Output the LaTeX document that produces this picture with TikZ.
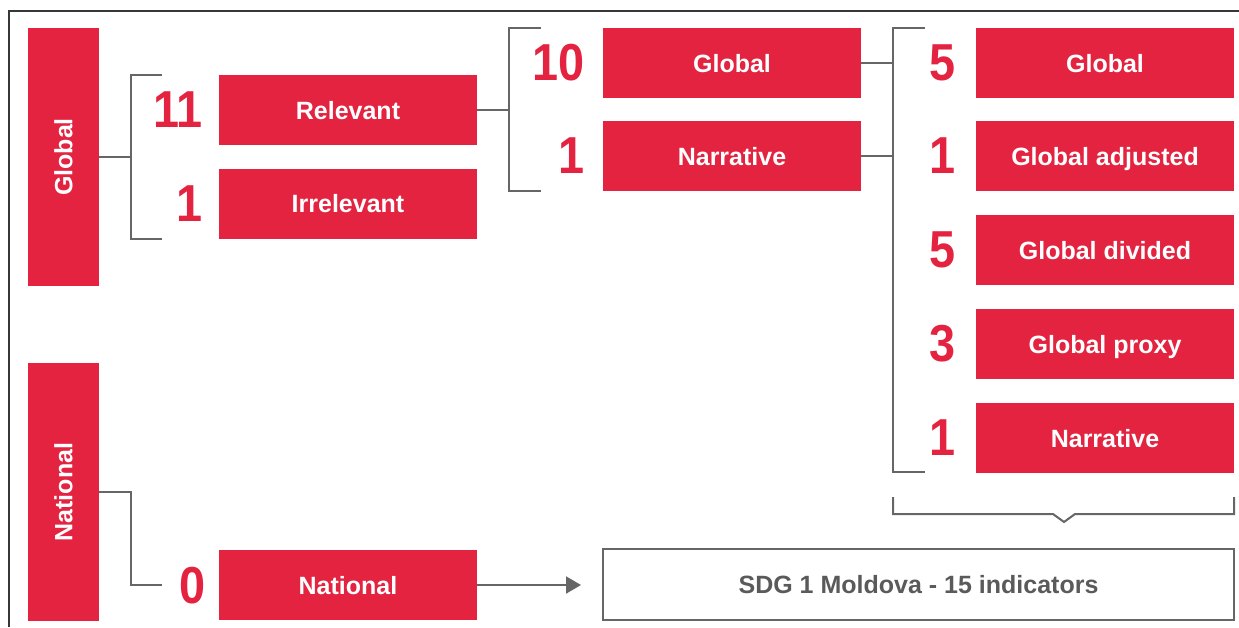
\documentclass[tikz,border=0pt]{standalone}
\usepackage{fontspec}
\setmainfont{Liberation Sans}
\newfontfamily\numfont[FakeStretch=0.9]{Liberation Sans}
\usepackage{graphicx}
\usetikzlibrary{arrows.meta,positioning,calc}

\definecolor{sdgred}{RGB}{227,35,63}
\definecolor{lngray}{RGB}{102,102,102}
\definecolor{txgray}{RGB}{90,90,90}
\definecolor{frgray}{RGB}{55,55,55}

\begin{document}
\begin{tikzpicture}[
		      x=1pt,y=-1pt,
		      cat/.style={fill=sdgred,inner sep=0pt,outer sep=0pt,minimum width=258pt,minimum height=70pt,
		                  text=white,font=\fontsize{25}{30}\selectfont\bfseries,text height=18pt,text depth=0pt},
		      side/.style={cat,minimum width=71pt,minimum height=258pt,text height=,text depth=},
		      num/.style={text=sdgred,inner sep=0pt,font=\numfont\fontsize{52}{60}\selectfont\bfseries},
		      brk/.style={draw=lngray,line width=2pt},
		      arr/.style={-{Triangle[length=15pt,width=17pt]},draw=lngray,line width=2pt},
		      total/.style={draw=lngray,line width=2.5pt,inner sep=0pt,minimum width=631pt,minimum height=71pt,
		                    text=txgray,font=\fontsize{25}{30}\selectfont\bfseries,text height=18pt,text depth=0pt}
		    ]
    \useasboundingbox (0,0) rectangle (1239,627);
    \draw[draw=frgray,line width=1.5pt] (9,627) -- (9,11) -- (1239,11);

    % level 1: vertical category bars
    \node[side] (Gv) at (63.5,157) {\rotatebox{90}{Global}};
    \node[side] (Nv) at (63.5,492) {\rotatebox{90}{National}};

    % level 2
    \node[cat] (Rel) at (348,110) {Relevant};
    \node[cat] (Irr) at (348,203.5) {Irrelevant};
    \node[cat] (Nat) at (348,585) {National};
    \node[num,anchor=east] (n11) at (203,110) {11};
    \node[num,anchor=east] (n1a) at (203,203.5) {1};
    \node[num,anchor=east] (n0) at (206,586) {0};

    % level 3
    \node[cat] (Glo) at (732,63) {Global};
    \node[cat] (Nar) at (732,156) {Narrative};
    \node[num,anchor=east] (n10) at (585,63) {10};
    \node[num,anchor=east] (n1b) at (585,156) {1};

    % level 4
    \node[cat] (R1) at (1105,63) {Global};
    \node[cat] (R2) at (1105,156) {Global adjusted};
    \node[cat] (R3) at (1105,250) {Global divided};
    \node[cat] (R4) at (1105,344) {Global proxy};
    \node[cat] (R5) at (1105,438) {Narrative};
    \foreach \v/\y [count=\i] in {5/63,1/156,5/250,3/344,1/438}
      \node[num] (m\i) at (943,\y) {\v};

    \node[total] (Sdg) at (918.5,584.5) {SDG 1 Moldova - 15 indicators};

    % brackets
    \coordinate (b1t) at (162,75);
    \coordinate (b1b) at (162,239);
    \draw[brk] (Gv.east) -- ++(32,0);
    \draw[brk] (b1t) -- ++(-31,0) |- (b1b);

    \coordinate (b2t) at (541,28);
    \coordinate (b2b) at (541,191);
    \draw[brk] (Rel.east) -- ++(32,0);
    \draw[brk] (b2t) -- ++(-32,0) |- (b2b);

    \coordinate (b3t) at (925,28);
    \coordinate (b3b) at (925,472);
    \draw[brk] (Glo.east) -- ++(32,0);
    \draw[brk] (Nar.east) -- ++(32,0);
    \draw[brk] (b3t) -- ++(-32,0) |- (b3b);

    % sum brace over the last column
    \draw[brk] (893,497) -- (893,514) -- (1053,514) -- (1064,522) -- (1075,514) -- (1234,514) -- (1234,497);

    % national path
    \coordinate (nt) at (162,585);
    \coordinate (atip) at (581,585);
    \draw[brk] (Nv.east) -- ++(32,0) |- (nt);
    \draw[arr] (Nat.east) -- (atip);

  \end{tikzpicture}
\end{document}
